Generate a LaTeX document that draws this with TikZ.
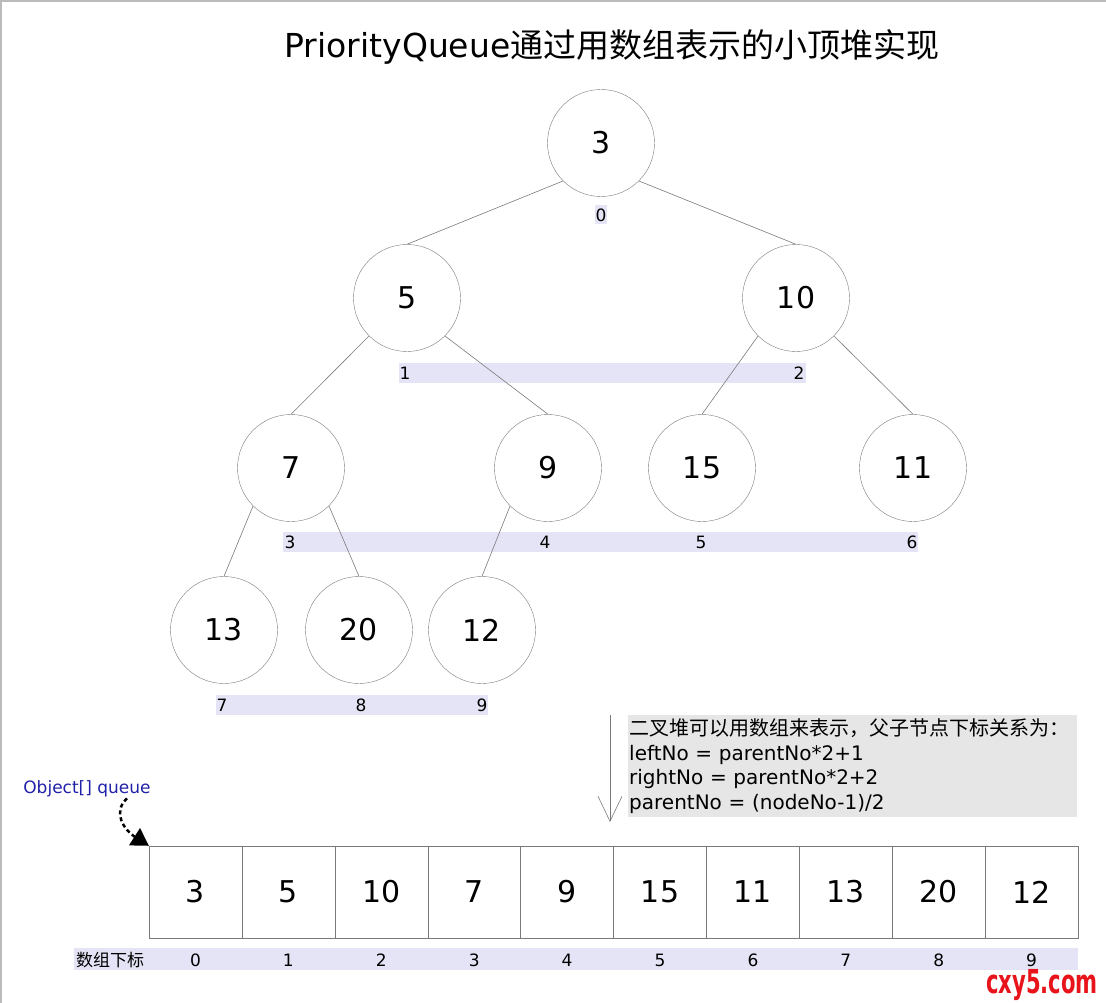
\documentclass[tikz,border=0pt]{standalone}
\usepackage{fontspec}
\setmainfont{DejaVu Sans}
\newfontfamily\cjk{Noto Sans CJK SC}
\usetikzlibrary{arrows.meta}
\definecolor{bandcol}{HTML}{E4E4F6}
\definecolor{notecol}{HTML}{E6E6E6}
\definecolor{linegray}{HTML}{7A7A7A}
\definecolor{framegray}{HTML}{BBBBBB}
\definecolor{qblue}{HTML}{2020A8}
\definecolor{markred}{HTML}{E8141B}

\begin{document}
\begin{tikzpicture}[x=1pt, y=-1pt,
    heapnode/.style={circle, draw=linegray, minimum size=107pt, inner sep=0pt, font=\fontsize{30}{36}\selectfont},
    cell/.style={rectangle, draw=linegray, minimum width=92.9pt, minimum height=92pt, inner sep=0pt, font=\fontsize{30}{36}\selectfont},
    idx/.style={inner sep=0pt, font=\fontsize{17}{20}\selectfont},
    branch/.style={draw=linegray, line width=0.6pt}]
    \useasboundingbox (0,0) rectangle (1106,1003);
    \draw[framegray, line width=1.5pt] (0,1) -- (1106,1);
    \draw[framegray, line width=1.5pt] (1,0) -- (1,1003);

    % title
    \node at (612,47) [font=\fontsize{33}{40}\selectfont] (title) {PriorityQueue\cjk 通过用数组表示的小顶堆实现};

    % index bands
    \fill[bandcol] (399,363) rectangle (806,383);
    \fill[bandcol] (283,532) rectangle (918,552);
    \fill[bandcol] (216,695) rectangle (488,715);
    \fill[bandcol] (74,948) rectangle (1078,970);

    % heap
    \node at (601,143) [heapnode] (n0) {3};
    \node at (407,298) [heapnode] (n1) {5};
    \node at (796,298) [heapnode] (n2) {10};
    \node at (291,468) [heapnode] (n3) {7};
    \node at (548,468) [heapnode] (n4) {9};
    \node at (702,468) [heapnode] (n5) {15};
    \node at (913,468) [heapnode] (n6) {11};
    \node at (224,630) [heapnode] (n7) {13};
    \node at (359,630) [heapnode] (n8) {20};
    \node at (482,630) [heapnode] (n9) {12};

    \node at (601,215) [idx, fill=bandcol, inner xsep=0.5pt, minimum height=19pt] (i0) {0};
    \node at (405,373) [idx] (i1) {1};
    \node at (799,373) [idx] (i2) {2};
    \node at (290,542) [idx] (i3) {3};
    \node at (545,542) [idx] (i4) {4};
    \node at (701,542) [idx] (i5) {5};
    \node at (912,542) [idx] (i6) {6};
    \node at (222,705) [idx] (i7) {7};
    \node at (361,705) [idx] (i8) {8};
    \node at (482,705) [idx] (i9) {9};

    \draw[branch] (n0.south west) -- (n1.north);
    \draw[branch] (n0.south east) -- (n2.north);
    \draw[branch] (n1.south west) -- (n3.north);
    \draw[branch] (n1.south east) -- (n4.north);
    \draw[branch] (n2.south west) -- (n5.north);
    \draw[branch] (n2.south east) -- (n6.north);
    \draw[branch] (n3.south west) -- (n7.north);
    \draw[branch] (n3.south east) -- (n8.north);
    \draw[branch] (n4.south west) -- (n9.north);

    % note
    \node at (628,715) [anchor=north west, fill=notecol, text width=447pt, minimum height=102pt,
        inner xsep=1pt, inner ysep=2pt, align=left, font=\fontsize{20}{24.5}\selectfont] (note)
        {{\cjk 二叉堆可以用数组来表示，父子节点下标关系为：}\\
         leftNo = parentNo*2+1\\
         rightNo = parentNo*2+2\\
         parentNo = (nodeNo-1)/2};
    \coordinate (notetop) at (610,715);
    \coordinate (notetip) at (610,822);
    \draw[linegray, line width=0.6pt, -{Straight Barb[length=25pt, width=24pt, line width=0.6pt]}] (notetop) -- (notetip);

    % array
    \foreach \v [count=\i from 0] in {3,5,10,7,9,15,11,13,20,12} {
        \node at ({195.5+92.9*\i},892) [cell] (c\i) {\v};
        \node at ({195.5+92.9*\i},960) [idx] (k\i) {\i};
    }
    \node at (110,960) [idx] (klabel) {\cjk 数组下标};

    \node at (87,789) [text=qblue, font=\fontsize{17}{20}\selectfont, inner sep=1pt] (qlabel) {Object[] queue};
    \draw[line width=2.5pt, dash pattern=on 4pt off 3pt, -{Triangle[length=17pt, width=20pt]}]
        ([xshift=40pt]qlabel.south) .. controls (112,812) and (124,830) .. (c0.north west);

    \node at (1042,985) [text=markred, xscale=0.64, font=\fontsize{33}{40}\selectfont\bfseries] (mark) {cxy5.com};
\end{tikzpicture}
\end{document}
